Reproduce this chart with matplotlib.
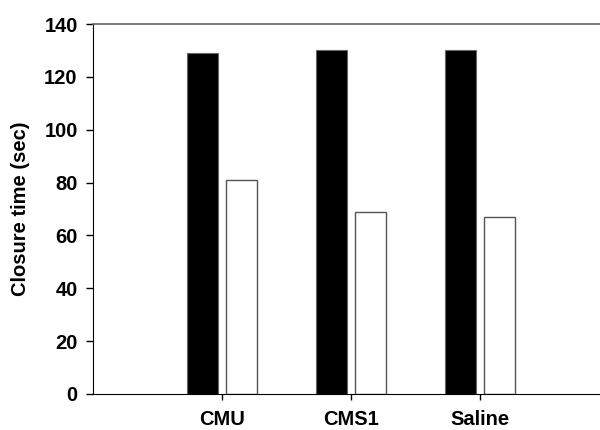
import matplotlib
matplotlib.use("Agg")
import matplotlib.pyplot as plt
import numpy as np

plt.rcParams['font.family'] = ['Liberation Sans', 'DejaVu Sans']
plt.rcParams['font.weight'] = 'bold'

categories = ["CMU", "CMS1", "Saline"]
series_black = [129, 130, 130]
series_white = [81, 69, 67]
y_ticks = [0, 20, 40, 60, 80, 100, 120, 140]

fig = plt.figure(figsize=(6.0, 4.3), dpi=100)
ax = fig.add_axes([0.155, 0.084, 0.86, 0.86])

x = np.arange(1, len(categories) + 1)
w = 0.24
off = 0.15
ax.bar(x - off, series_black, width=w, color='black', edgecolor='#666666', linewidth=0.8)
ax.bar(x + off, series_white, width=w, color='white', edgecolor='#555555', linewidth=1.0)

ax.set_xlim(0, 4)
ax.set_ylim(0, 140)
ax.set_yticks(y_ticks)
ax.set_xticks(x)
ax.set_xticklabels(categories)

for lab in ax.get_xticklabels() + ax.get_yticklabels():
    lab.set_fontweight('bold')
    lab.set_fontsize(14.5)

ax.tick_params(axis='y', direction='out', length=5, width=1, pad=6, colors='black')
ax.tick_params(axis='x', direction='out', length=4, width=1, pad=7.5, colors='black')

ax.spines['right'].set_visible(False)
ax.spines['top'].set_color('#666666')
ax.spines['top'].set_linewidth(1.2)
ax.spines['left'].set_color('black')
ax.spines['bottom'].set_color('black')

ax.set_ylabel("Closure time (sec)", fontsize=14.5, fontweight='bold', labelpad=10)

fig.savefig("out.png", dpi=100)
